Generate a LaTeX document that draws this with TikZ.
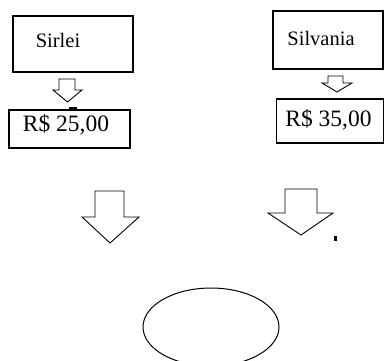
\documentclass[tikz,border=0pt]{standalone}
\usepackage{fontspec}
\setmainfont{Liberation Serif}
\usetikzlibrary{shapes.geometric}
\begin{document}
\begin{tikzpicture}[x=1pt,y=-1pt,
  boxstyle/.style={draw,line width=1.2pt,inner sep=0pt},
  namestyle/.style={font=\fontsize{20.5}{24}\selectfont,inner sep=0pt},
  valstyle/.style={font=\fontsize{23.5}{27}\selectfont,inner sep=0pt},
  blockarrow/.style={draw,line width=0.9pt,fill=white,line join=miter}]
\useasboundingbox (0,0) rectangle (385,360);
\clip (0,0) rectangle (385,360);
% boxes
\node[boxstyle,minimum width=120pt,minimum height=56pt] (sirleibox) at (73,44) {};
\node[namestyle] (sirlei) at (58,40) {Sirlei};
\node[boxstyle,minimum width=121pt,minimum height=38pt] (val1box) at (69.5,129) {};
\node[valstyle] (val1) at (66,125) {R\$ 25,00};
\node[boxstyle,minimum width=110pt,minimum height=58pt] (silvaniabox) at (328,40) {};
\node[namestyle] (silvania) at (321,38) {Silvania};
\node[boxstyle,minimum width=107pt,minimum height=44pt] (val2box) at (330,121) {};
\node[valstyle] (val2) at (328.5,120) {R\$ 35,00};
% small arrows
\draw[blockarrow] (59,79) -- (75,79) -- (75,90) -- (82,90) -- (67.5,102) -- (53,90) -- (59,90) -- cycle;
\draw[blockarrow] (328,76) -- (343,76) -- (343,83) -- (352,83) -- (337,92) -- (322,83) -- (328,83) -- cycle;
% big arrows
\draw[blockarrow] (95,191) -- (124,191) -- (124,217) -- (139,217) -- (110,243) -- (82,217) -- (95,217) -- cycle;
\draw[blockarrow] (285,189) -- (317,189) -- (317,213) -- (333,213) -- (301,235) -- (268,213) -- (285,213) -- cycle;
% marks
\fill (69,107) rectangle (77,110.5);
\fill (334,236) rectangle (336.5,241);
% ellipse
\coordinate (result) at (211,327);
\draw[line width=1pt] (result) ellipse [x radius=68pt, y radius=39pt];
\end{tikzpicture}
\end{document}
